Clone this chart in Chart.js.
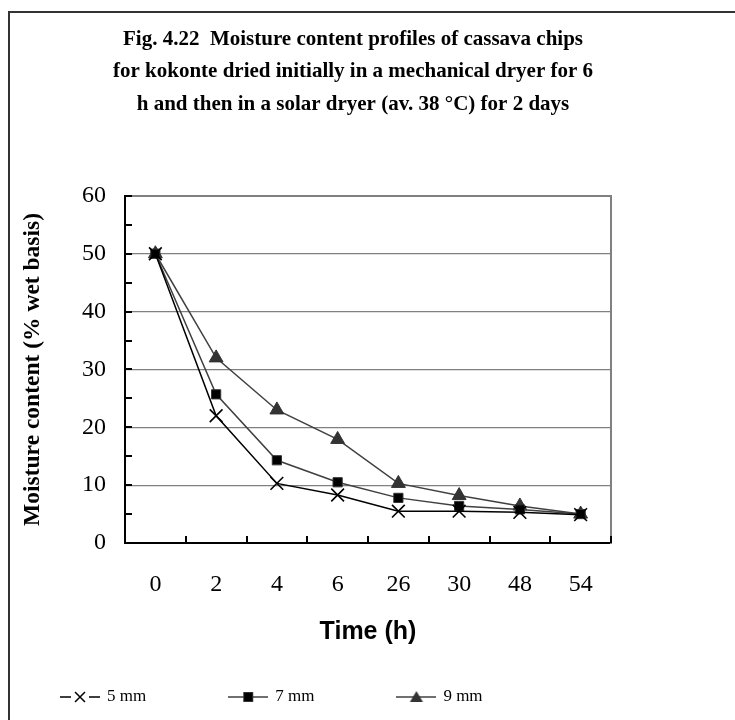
<!DOCTYPE html>
<html>
<head>
<meta charset="utf-8">
<script src="https://cdn.jsdelivr.net/npm/chart.js@4.4.1/dist/chart.umd.min.js"></script>
<style>
  html, body { margin: 0; padding: 0; background: #ffffff; overflow: hidden; width: 735px; height: 720px; }
  #wrap { position: absolute; left: -40px; top: 0; width: 775px; height: 720px; }
</style>
</head>
<body>
<div id="wrap"><canvas id="c" width="775" height="720"></canvas></div>
<script>
// ---- data ----
const categories = ['0', '2', '4', '6', '26', '30', '48', '54'];
const seriesNames = ['5 mm', '7 mm', '9 mm'];
const mc5mm = [50, 22.0, 10.3, 8.3, 5.5, 5.5, 5.3, 4.9];
const mc7mm = [50, 25.7, 14.3, 10.5, 7.8, 6.4, 5.8, 5.0];
const mc9mm = [50, 32.0, 23.0, 17.9, 10.3, 8.2, 6.4, 5.0];
const titleLines = [
  'Fig. 4.22  Moisture content profiles of cassava chips',
  'for kokonte dried initially in a mechanical dryer for 6',
  'h and then in a solar dryer (av. 38 \u00B0C) for 2 days'
];
const yTitle = 'Moisture content (% wet basis)';
const xTitle = 'Time (h)';

// ---- legend images (line + marker) ----
function legendImage(kind) {
  const cv = document.createElement('canvas');
  cv.width = 40; cv.height = 14;
  const g = cv.getContext('2d');
  const cy = 7;
  g.lineWidth = 1.5;
  if (kind === 0) {
    g.strokeStyle = '#000';
    g.beginPath(); g.moveTo(0, cy); g.lineTo(11, cy); g.moveTo(29, cy); g.lineTo(40, cy); g.stroke();
    g.beginPath(); g.moveTo(15, cy - 5); g.lineTo(25, cy + 5); g.moveTo(15, cy + 5); g.lineTo(25, cy - 5); g.stroke();
  } else if (kind === 1) {
    g.strokeStyle = '#404040';
    g.beginPath(); g.moveTo(0, cy); g.lineTo(40, cy); g.stroke();
    g.fillStyle = '#000'; g.fillRect(15.5, cy - 4.5, 9, 9);
    g.strokeStyle = '#333'; g.lineWidth = 1; g.strokeRect(15.5, cy - 4.5, 9, 9);
  } else {
    g.strokeStyle = '#404040';
    g.beginPath(); g.moveTo(0, cy); g.lineTo(40, cy); g.stroke();
    g.fillStyle = '#333';
    g.beginPath(); g.moveTo(20, cy - 6); g.lineTo(26.5, cy + 5); g.lineTo(13.5, cy + 5); g.closePath(); g.fill();
  }
  return cv;
}
const legendImgs = [legendImage(0), legendImage(1), legendImage(2)];

// ---- decoration plugin: outer frame + inside tick marks ----
const decor = {
  id: 'decor',
  beforeDraw(chart) {
    const ctx = chart.ctx;
    ctx.save();
    ctx.fillStyle = '#fff';
    ctx.fillRect(0, 0, chart.width, chart.height);
    ctx.strokeStyle = '#333';
    ctx.lineWidth = 2;
    ctx.beginPath();
    ctx.moveTo(49, chart.height + 2);
    ctx.lineTo(49, 12);
    ctx.lineTo(chart.width + 2, 12);
    ctx.stroke();
    ctx.restore();
  },
  beforeDatasetsDraw(chart) {
    const ctx = chart.ctx;
    const a = chart.chartArea;
    const ys = chart.scales.y, xs = chart.scales.x;
    ctx.save();
    ctx.strokeStyle = '#000';
    ctx.lineWidth = 2;
    ctx.beginPath();
    for (let v = 0; v <= 60; v += 5) {
      const py = Math.round(ys.getPixelForValue(v));
      ctx.moveTo(a.left, py); ctx.lineTo(a.left + 7, py);
    }
    for (let i = 0; i <= categories.length; i++) {
      const px = Math.round(xs.getPixelForValue(i - 0.5));
      ctx.moveTo(px, a.bottom); ctx.lineTo(px, a.bottom - 7);
    }
    ctx.stroke();
    ctx.restore();
  }
};

const serif = "'Liberation Serif', 'Times New Roman', serif";
const sans = "'Liberation Sans', Arial, sans-serif";

new Chart(document.getElementById('c'), {
  type: 'line',
  data: {
    labels: categories,
    datasets: [
      { label: seriesNames[0], data: mc5mm, borderColor: '#000', borderWidth: 1.5,
        pointStyle: 'crossRot', pointRadius: 9, pointBorderColor: '#000', pointBorderWidth: 1.6,
        pointBackgroundColor: '#000', tension: 0, fill: false },
      { label: seriesNames[1], data: mc7mm, borderColor: '#404040', borderWidth: 1.5,
        pointStyle: 'rect', pointRadius: 6.5, pointBorderColor: '#333', pointBorderWidth: 1,
        pointBackgroundColor: '#000', tension: 0, fill: false },
      { label: seriesNames[2], data: mc9mm, borderColor: '#404040', borderWidth: 1.5,
        pointStyle: 'triangle', pointRadius: 8, pointBorderColor: '#333', pointBorderWidth: 1,
        pointBackgroundColor: '#333', tension: 0, fill: false }
    ]
  },
  options: {
    responsive: false,
    animation: false,
    devicePixelRatio: 1,
    layout: { padding: { left: 18, right: 7, top: 10, bottom: 4.5 } },
    plugins: {
      title: {
        display: true, text: titleLines, color: '#000',
        font: { family: serif, size: 21, weight: 'bold', lineHeight: 1.55 },
        padding: { top: 13, bottom: 75.25 }
      },
      legend: {
        display: true, position: 'bottom', align: 'start',
        labels: {
          usePointStyle: true, pointStyleWidth: 37, padding: 83.5,
          color: '#000', font: { family: serif, size: 17 },
          generateLabels: (chart) => chart.data.datasets.map((ds, i) => ({
            text: ds.label, pointStyle: legendImgs[i], datasetIndex: i,
            hidden: false, lineWidth: 0, fillStyle: '#000', strokeStyle: '#000', fontColor: '#000'
          }))
        }
      },
      tooltip: { enabled: false }
    },
    scales: {
      x: {
        type: 'category', offset: true,
        grid: { display: false, drawTicks: false },
        border: { display: true, color: '#000', width: 2 },
        ticks: { color: '#000', font: { family: serif, size: 24 }, padding: 27, autoSkip: false, maxRotation: 0 },
        title: { display: true, text: xTitle, color: '#000',
          font: { family: sans, size: 25, weight: 'bold' }, padding: { top: 0, bottom: -42 } },
        afterFit: (s) => { s.height = 62; }
      },
      y: {
        type: 'linear', position: 'left', min: 0, max: 60,
        grid: {
          drawTicks: false,
          color: (c) => (c.tick && c.tick.value % 10 === 0 && c.tick.value > 0) ? '#808080' : 'rgba(0,0,0,0)',
          lineWidth: (c) => (c.tick && c.tick.value === 60) ? 2 : 1.3
        },
        border: { display: true, color: '#000', width: 2 },
        ticks: { stepSize: 5, autoSkip: false, color: '#000', padding: 19,
          font: { family: serif, size: 24 },
          callback: (v) => (v % 10 === 0 ? String(v) : '') },
        title: { display: true, text: yTitle, color: '#000',
          font: { family: serif, size: 23.5, weight: 'bold' }, padding: { top: 40.9, bottom: 0 } },
        afterFit: (s) => { s.width = 147; }
      },
      yR: {
        type: 'linear', position: 'right', min: 0, max: 60,
        grid: { display: false, drawTicks: false },
        ticks: { display: false },
        border: { display: true, color: '#808080', width: 2 },
        afterFit: (s) => { s.width = 117; }
      }
    }
  },
  plugins: [decor]
});
</script>
</body>
</html>
